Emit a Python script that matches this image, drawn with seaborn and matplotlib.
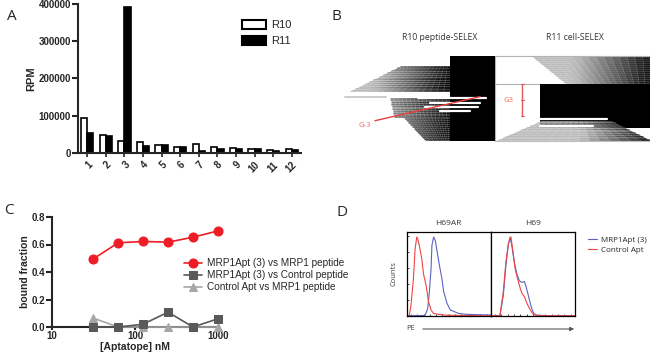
import numpy as np
import pandas as pd
import matplotlib
matplotlib.use("Agg")
import matplotlib.pyplot as plt
from matplotlib.collections import LineCollection
from matplotlib.patches import Rectangle, FancyArrowPatch
import seaborn as sns

# ---------------- data ----------------
# Panel A
clones = [str(i) for i in range(1, 13)]
rpm_r10 = [95000, 49000, 32000, 28700, 21500, 16000, 25000, 16000, 13500, 9900, 7200, 9900]
rpm_r11 = [53800, 45000, 393000, 19000, 20600, 16000, 5400, 11700, 10800, 10800, 5400, 8000]

# Panel C
conc_nM = [31.25, 62.5, 125, 250, 500, 1000]
bf_apt_mrp1 = [0.494, 0.612, 0.622, 0.617, 0.653, 0.699]
bf_apt_ctrl = [0.0, 0.0, 0.02, 0.108, 0.0, 0.06]
bf_ctrlapt_mrp1 = [0.065, 0.0, 0.0, 0.0, 0.0, 0.0]
series_c = ["MRP1Apt (3) vs MRP1 peptide", "MRP1Apt (3) vs Control peptide", "Control Apt vs MRP1 peptide"]

# Panel D (normalised PE histograms)
h69ar_ctrl_x = [0, .03, .05, .08, .10, .12, .13, .15, .18, .20, .23, .26, .29, .32, .38, .45, .55, .70, .85, 1.0]
h69ar_ctrl_y = [0, .005, .12, .44, .80, .94, .92, .84, .68, .50, .37, .17, .07, .03, .02, .012, .008, .006, .004, .003]
h69ar_apt_x = [0, .10, .20, .22, .25, .27, .29, .30, .32, .34, .36, .39, .42, .44, .48, .52, .56, .62, .71, .87, 1.0]
h69ar_apt_y = [.004, .004, .006, .01, .09, .29, .56, .84, .94, .90, .78, .60, .44, .29, .15, .07, .055, .03, .02, .015, .012]
h69_ctrl_x = [0, .11, .15, .18, .21, .24, .26, .29, .32, .35, .37, .40, .43, .47, .51, .60, .80, 1.0]
h69_ctrl_y = [0, .005, .29, .64, .86, .94, .80, .56, .44, .33, .27, .23, .15, .07, .016, .004, .003, .002]
h69_apt_x = [0, .11, .15, .18, .21, .23, .25, .28, .31, .34, .37, .40, .42, .45, .48, .51, .55, .70, 1.0]
h69_apt_y = [0, .005, .25, .60, .86, .94, .84, .64, .50, .42, .40, .41, .35, .23, .11, .03, .005, .003, .002]

# Panel B (schematic dendrogram clades, in figure-pixel units)
clade_y0 = [66, 98, 118, 57, 121]
clade_y1 = [91, 117, 140, 83, 140]
clade_sx0 = [400, 390, 404, 533, 540]
clade_sx1 = [350, 394, 425, 565, 497]
clade_tx0 = [450, 450, 450, 650, 612]
clade_tx1 = [450, 450, 450, 650, 650]
clade_n = [40, 28, 34, 40, 28]
clade_black = [440, 440, 440, 640, 645]
white_leaf_y = [97.7, 103, 106.5, 111, 118.5, 126]
white_leaf_x0 = [418, 430, 425, 440, 540, 540]
white_leaf_x1 = [486, 480, 478, 470, 607, 593]

# ---------------- style ----------------
sns.set_theme(style="ticks")
plt.rcParams["font.family"] = ["Liberation Sans", "DejaVu Sans"]
plt.rcParams["axes.linewidth"] = 1.5

W, H = 650, 354
fig = plt.figure(figsize=(6.5, 3.54), dpi=100)


def px_axes(x0, y0, x1, y1):
    return fig.add_axes([x0 / W, 1 - y1 / H, (x1 - x0) / W, (y1 - y0) / H])


LIGHT = "Open Sans"

# ---------------- panel A ----------------
axA = px_axes(78, 4, 301, 153)
dfA = pd.DataFrame({
    "clone": clones * 2,
    "RPM": rpm_r10 + rpm_r11,
    "round": ["R10"] * 12 + ["R11"] * 12,
})
sns.barplot(data=dfA, x="clone", y="RPM", hue="round", ax=axA,
            palette={"R10": "white", "R11": "black"}, edgecolor="black",
            linewidth=1.2, width=0.66, gap=0, legend=False)
axA.set_xlim(-0.5, 11.5)
axA.set_ylim(0, 400000)
axA.set_yticks([0, 100000, 200000, 300000, 400000])
axA.set_yticklabels(["0", "100000", "200000", "300000", "400000"], fontsize=7, fontweight="bold")
axA.set_xticks(range(12))
axA.set_xticklabels(clones, fontsize=7, fontweight="bold", rotation=45, ha="right",
                    rotation_mode="anchor")
axA.tick_params(axis="y", length=4, width=1.5, pad=1)
axA.tick_params(axis="x", length=3, width=1.2, pad=2)
axA.set_xlabel("")
axA.set_ylabel("RPM", fontsize=8, fontweight="bold", labelpad=2)
sns.despine(ax=axA)
hA = [Rectangle((0, 0), 1, 1, facecolor="white", edgecolor="black", linewidth=1.5),
      Rectangle((0, 0), 1, 1, facecolor="black", edgecolor="black", linewidth=1.5)]
axA.legend(hA, ["R10", "R11"], loc="upper left", bbox_to_anchor=(236 / W, 1 - 14 / H),
           bbox_transform=fig.transFigure, frameon=False, fontsize=8,
           handlelength=2.2, handleheight=0.9, handletextpad=0.5, labelspacing=0.5,
           borderpad=0)

# ---------------- panel B ----------------
axB = px_axes(330, 20, 650, 160)
axB.set_xlim(330, 650)
axB.set_ylim(160, 20)
axB.axis("off")

axB.add_patch(Rectangle((450, 56), 45, 85, facecolor="black", edgecolor="none", zorder=1))
axB.add_patch(Rectangle((540, 84.3), 110, 44, facecolor="black", edgecolor="none", zorder=1))
axB.plot([495, 650], [56, 56], color="0.7", lw=0.8, zorder=0)
axB.plot([495, 495], [56, 141], color="0.7", lw=0.8, zorder=0)
axB.plot([495, 540], [84.3, 84.3], color="0.7", lw=0.8, zorder=0)
axB.plot([495, 650], [140.5, 140.5], color="0.75", lw=0.8, zorder=0)
axB.plot([345, 386], [96.7, 96.7], color="0.8", lw=1.4, zorder=0)

segs, cols = [], []
for y0, y1, s0, s1, t0, t1, n, xb in zip(clade_y0, clade_y1, clade_sx0, clade_sx1,
                                          clade_tx0, clade_tx1, clade_n, clade_black):
    ys = np.linspace(y0, y1, n)
    ss = np.linspace(s0, s1, n)
    ts = np.linspace(t0, t1, n)
    for k, (yy, sx, tx) in enumerate(zip(ys, ss, ts)):
        xs = np.linspace(sx, tx, 16)
        shade = 0.0 if k % 3 == 0 else 0.1
        for a, b in zip(xs[:-1], xs[1:]):
            g = np.clip((xb - 0.5 * (a + b)) / 100.0 + shade, 0, 0.72)
            segs.append([(a, yy), (b, yy)])
            cols.append((g, g, g))
axB.add_collection(LineCollection(segs, colors=cols, linewidths=0.55, zorder=2))
for yy, a, b in zip(white_leaf_y, white_leaf_x0, white_leaf_x1):
    axB.plot([a, b], [yy, yy], color="white", lw=1.6, zorder=3)

axB.plot([375, 480], [120.7, 96.7], color="#e8403a", lw=1.0, zorder=4)
axB.text(365, 125.5, "G-3", color="#e86a5a", fontsize=5.5, ha="center", va="center", family=LIGHT)
axB.plot([522, 522], [84.3, 115.7], color="#e05a5a", lw=1.0, zorder=4)
for yy in [84.3, 100, 115.7]:
    axB.plot([520.5, 523.5], [yy, yy], color="#e05a5a", lw=0.8, zorder=4)
axB.text(508, 100.5, "G3", color="#e86a5a", fontsize=5.5, ha="center", va="center", family=LIGHT)
axB.text(440, 37, "R10 peptide-SELEX", fontsize=6.2, ha="center", va="center", family=LIGHT, color="0.2")
axB.text(575, 37, "R11 cell-SELEX", fontsize=6.2, ha="center", va="center", family=LIGHT, color="0.2")

# ---------------- panel C ----------------
axC = px_axes(52, 217, 218, 327)
dfC = pd.DataFrame({
    "conc": conc_nM * 3,
    "bf": bf_apt_mrp1 + bf_apt_ctrl + bf_ctrlapt_mrp1,
    "series": [series_c[0]] * 6 + [series_c[1]] * 6 + [series_c[2]] * 6,
})
colorsC = ["#ee1c25", "#595959", "#a6a6a6"]
markersC = ["o", "s", "^"]
msC = [6.5, 6, 5.5]
for s, c, m, ms, z in zip(series_c, colorsC, markersC, msC, [5, 4, 3]):
    sub = dfC[dfC["series"] == s]
    sns.lineplot(data=sub, x="conc", y="bf", ax=axC, color=c, marker=m, markersize=ms,
                 markeredgecolor=c, linewidth=1.2, label=s, clip_on=False, zorder=z)
axC.set_xscale("log")
axC.set_xlim(10, 1000)
axC.set_ylim(0, 0.8)
axC.set_yticks([0, 0.2, 0.4, 0.6, 0.8])
axC.set_yticklabels(["0.0", "0.2", "0.4", "0.6", "0.8"], fontsize=7, fontweight="bold")
axC.set_xticks([10, 100, 1000])
axC.set_xticklabels(["10", "100", "1000"], fontsize=7, fontweight="bold")
axC.minorticks_off()
axC.tick_params(axis="y", length=4, width=1.5, pad=1)
axC.tick_params(axis="x", length=2.5, width=1.5, pad=0.5)
axC.set_xlabel("[Aptatope] nM", fontsize=7.5, fontweight="bold", labelpad=0.5)
axC.set_ylabel("bound fraction", fontsize=7.5, fontweight="bold", labelpad=1)
sns.despine(ax=axC)
axC.legend(loc="upper left", bbox_to_anchor=(179 / W, 1 - 253 / H), bbox_transform=fig.transFigure,
           frameon=False, fontsize=7.2, handlelength=1.8, handletextpad=0.5,
           labelspacing=0.22, borderpad=0)

# ---------------- panel D ----------------
axD1 = px_axes(406.7, 232, 490.7, 316)
axD2 = px_axes(490.7, 232, 575, 316)
blue, red = "#5b63c4", "#ee4444"
sns.lineplot(x=h69ar_apt_x, y=h69ar_apt_y, ax=axD1, color=blue, lw=0.8, label="MRP1Apt (3)")
sns.lineplot(x=h69ar_ctrl_x, y=h69ar_ctrl_y, ax=axD1, color=red, lw=0.8, label="Control Apt")
sns.lineplot(x=h69_apt_x, y=h69_apt_y, ax=axD2, color=blue, lw=0.8)
sns.lineplot(x=h69_ctrl_x, y=h69_ctrl_y, ax=axD2, color=red, lw=0.8)
for ax in (axD1, axD2):
    ax.set_xlim(0, 1)
    ax.set_ylim(0, 1)
    for sp in ax.spines.values():
        sp.set_linewidth(0.9)
        sp.set_color("black")
        sp.set_visible(True)
    ax.set_xticks(np.arange(0.05, 1.0, 0.075))
    ax.set_xticklabels([])
    ax.tick_params(axis="x", direction="in", length=1.5, width=0.6)
    ax.set_yticks([])
axD1.set_yticks([0.19, 0.38, 0.57, 0.76, 0.95])
axD1.set_yticklabels([])
axD1.tick_params(axis="y", direction="in", length=1.5, width=0.6, left=True)
axD1.set_ylabel("Counts", fontsize=5.5, family=LIGHT, labelpad=3, color="0.25")
axD1.set_title("H69AR", fontsize=6, family=LIGHT, pad=5, color="0.2")
axD2.set_title("H69", fontsize=6, family=LIGHT, pad=5, color="0.2")
axD1.legend(loc="upper left", bbox_to_anchor=(584 / W, 1 - 232 / H), bbox_transform=fig.transFigure,
            frameon=False, prop={"family": LIGHT, "size": 5.8}, handlelength=1.1,
            handletextpad=0.5, labelspacing=0.35, borderpad=0)
fig.text(411 / W, 1 - 329 / H, "PE", fontsize=5.5, family=LIGHT, ha="center", va="center", color="0.25")
fig.add_artist(FancyArrowPatch((420 / W, 1 - 329 / H), (577 / W, 1 - 329 / H),
                               transform=fig.transFigure, arrowstyle="-|>",
                               mutation_scale=6, color="0.35", lw=0.8))

# ---------------- panel letters ----------------
for lab, x, y in [("A", 12, 16), ("B", 336, 17), ("C", 9, 211), ("D", 342, 213)]:
    fig.text(x / W, 1 - y / H, lab, fontsize=11, family=LIGHT, ha="center", va="center")

fig.savefig("out.png", dpi=100)
